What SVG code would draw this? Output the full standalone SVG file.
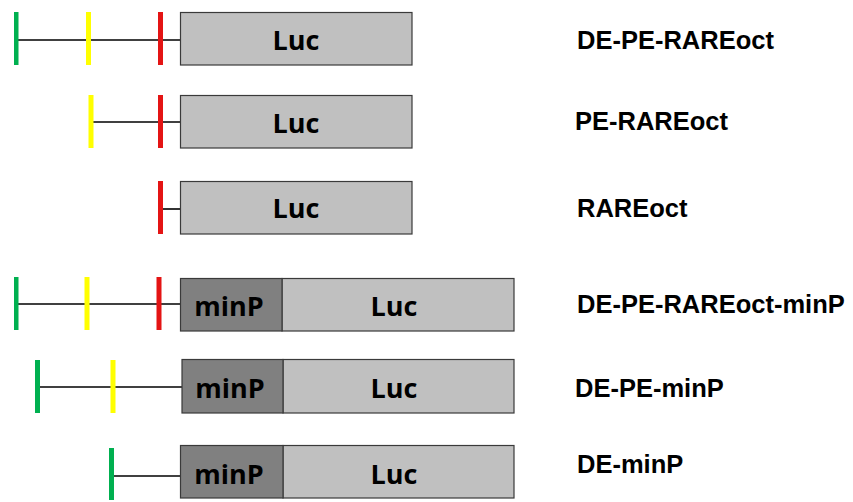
<svg xmlns="http://www.w3.org/2000/svg" width="853" height="502" viewBox="0 0 853 502">
<style>
.luc{fill:#c0c0c0;stroke:#3a3a3a;stroke-width:1.2}
.minp{fill:#808080;stroke:#3a3a3a;stroke-width:1.2}
.g{fill:#00b050}.y{fill:#ffff00}.r{fill:#e41414}
.bt{font-family:"Open Sans","Liberation Sans",sans-serif;font-weight:bold;font-size:27px;fill:#000;text-anchor:middle}
.lab{font-family:"Liberation Sans",Arial,sans-serif;font-weight:bold;font-size:25.5px;fill:#000}
.ln{stroke:#000;stroke-width:1.6;fill:none}
</style>
<rect width="853" height="502" fill="#fff"/>
<g id="connectors">
<line class="ln" x1="16" y1="40" x2="180" y2="40"/>
<line class="ln" x1="91" y1="122" x2="180" y2="122"/>
<line class="ln" x1="160" y1="209" x2="180" y2="209"/>
<line class="ln" x1="16" y1="304" x2="180" y2="304"/>
<line class="ln" x1="37" y1="387" x2="182" y2="387"/>
<line class="ln" x1="111" y1="476" x2="180" y2="476"/>
</g>
<g id="row1">
<rect class="g" x="14" y="12" width="4.5" height="53"/>
<rect class="y" x="86" y="12" width="5" height="53"/>
<rect class="r" x="158" y="12" width="5" height="53"/>
<rect class="luc" x="180.5" y="12.5" width="231.5" height="52.5"/>
<text class="bt" x="296" y="50">Luc</text>
<text class="lab" x="577" y="49">DE-PE-RAREoct</text>
</g>
<g id="row2">
<rect class="y" x="88.5" y="95" width="5" height="53"/>
<rect class="r" x="158" y="95" width="5" height="53"/>
<rect class="luc" x="180.5" y="95.5" width="231.5" height="52.5"/>
<text class="bt" x="296" y="133">Luc</text>
<text class="lab" x="575" y="130">PE-RAREoct</text>
</g>
<g id="row3">
<rect class="r" x="158" y="181" width="5" height="53"/>
<rect class="luc" x="180.5" y="181.5" width="231.5" height="52.5"/>
<text class="bt" x="296" y="218">Luc</text>
<text class="lab" x="577" y="217">RAREoct</text>
</g>
<g id="row4">
<rect class="g" x="14" y="277" width="4.5" height="53"/>
<rect class="y" x="84.5" y="277" width="5" height="53"/>
<rect class="r" x="156.5" y="277" width="5" height="53"/>
<rect class="luc" x="282" y="278.5" width="232" height="52.5"/>
<rect class="minp" x="180.5" y="278.5" width="101.5" height="52.5"/>
<text class="bt" x="229" y="316">minP</text>
<text class="bt" x="394" y="316">Luc</text>
<text class="lab" x="577" y="313">DE-PE-RAREoct-minP</text>
</g>
<g id="row5">
<rect class="g" x="35" y="360" width="5" height="53"/>
<rect class="y" x="110.5" y="360" width="5" height="53"/>
<rect class="luc" x="283" y="359.5" width="231" height="53.5"/>
<rect class="minp" x="182" y="359.5" width="101" height="53.5"/>
<text class="bt" x="230" y="398">minP</text>
<text class="bt" x="394" y="398">Luc</text>
<text class="lab" x="575" y="397">DE-PE-minP</text>
</g>
<g id="row6">
<rect class="g" x="109" y="448" width="5" height="52"/>
<rect class="luc" x="283" y="445.5" width="231" height="52.5"/>
<rect class="minp" x="180.5" y="445.5" width="102.5" height="52.5"/>
<text class="bt" x="229" y="484">minP</text>
<text class="bt" x="394" y="484">Luc</text>
<text class="lab" x="577" y="473">DE-minP</text>
</g>
</svg>
